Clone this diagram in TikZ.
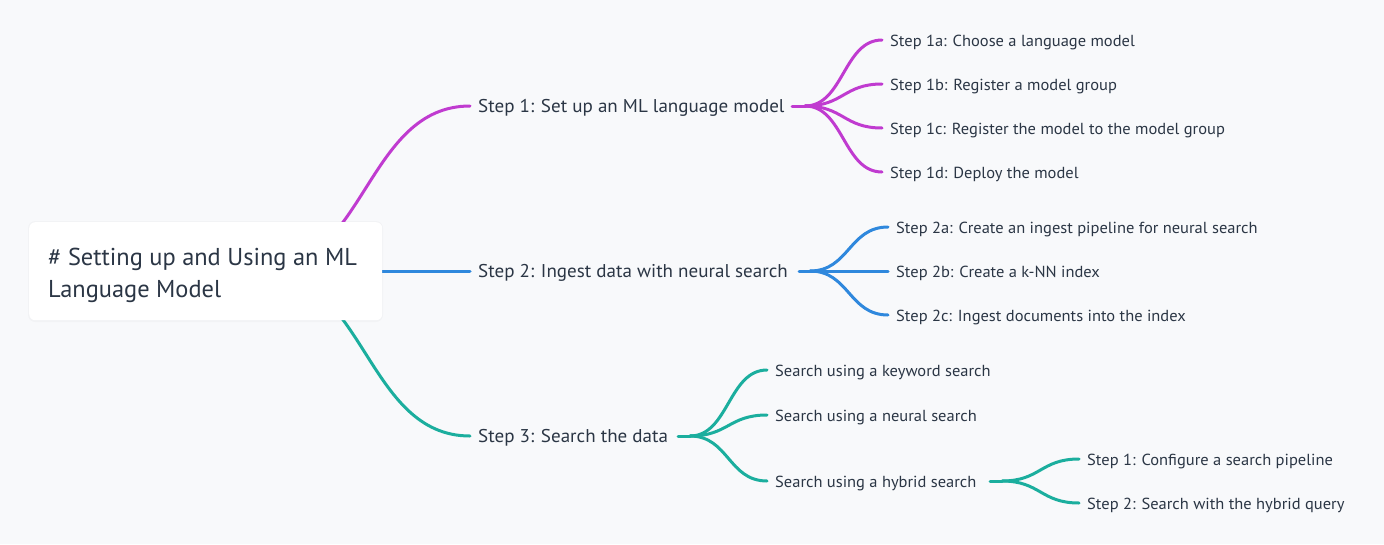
\documentclass[tikz,border=0pt]{standalone}
\usepackage{fontspec}
\setmainfont{PT Sans}
\newfontfamily\mmfont[FakeStretch=1.03]{PT Sans}
\newfontfamily\rootfont{PT Sans}
\definecolor{bg}{HTML}{F8F9FB}
\definecolor{txt}{HTML}{2B3645}
\definecolor{cpur}{HTML}{C03BD0}
\definecolor{cblu}{HTML}{2F88DD}
\definecolor{ctea}{HTML}{1BAE9E}
\begin{document}
\begin{tikzpicture}[x=1pt,y=-1pt,
  lvlone/.style={anchor=base west,inner sep=0pt,text=txt,font=\mmfont\fontsize{18.5}{20}\selectfont},
  lvltwo/.style={anchor=base west,inner sep=0pt,text=txt,font=\mmfont\fontsize{16}{18}\selectfont},
  roottext/.style={anchor=base west,inner sep=0pt,text=txt,font=\rootfont\fontsize{24.4}{32}\selectfont},
  link/.style={line width=3pt,line cap=round}]
\useasboundingbox (0,0) rectangle (1384,544);
\fill[bg] (0,0) rectangle (1384,544);
% coordinates of link ends
\coordinate (r0) at (261,271);
\coordinate (r1) at (382,271);
\coordinate (s1in) at (470,106);
\coordinate (s2in) at (470,271);
\coordinate (s3in) at (470,436);
% root links (behind box)
\draw[link,cpur] (r0) .. controls (365.5,271) and (365.5,106) .. (s1in);
\draw[link,ctea] (r0) .. controls (365.5,271) and (365.5,436) .. (s3in);
\draw[link,cblu] (r1) -- (s2in);
% root box
\fill[black,opacity=0.025,rounded corners=7pt] (28,221) rectangle (383,322);
\node[draw=none,fill=white,rounded corners=6pt,minimum width=353pt,minimum height=98pt,anchor=north west,inner sep=0pt] (root) at (29,222) {};
\node[roottext] (roota) at (48,265) {\# Setting up and Using an ML};
\node[roottext] (rootb) at (48,297) {Language Model};
% level 1
\node[lvlone] (s1) at (478,112.5) {Step 1: Set up an ML language model};
\node[lvlone] (s2) at (478,277.5) {Step 2: Ingest data with neural search};
\node[lvlone] (s3) at (478,442.5) {Step 3: Search the data};
% step 1 children
\coordinate (s1out) at (792,106);
\coordinate (s1f) at (805,106);
\draw[link,cpur] (s1out) -- (s1f);
\foreach \n/\yy/\t in {a/40/{Step 1a: Choose a language model},b/84/{Step 1b: Register a model group},c/128/{Step 1c: Register the model to the model group},d/172/{Step 1d: Deploy the model}}{
  \node[lvltwo] (s1\n) at (890,\yy+6.5) {\t};
  \coordinate (s1\n in) at (882,\yy);
  \draw[link,cpur] (s1f) .. controls (843.5,106) and (843.5,\yy) .. (s1\n in);
}
% step 2 children
\coordinate (s2out) at (799,271);
\coordinate (s2f) at (810,271);
\draw[link,cblu] (s2out) -- (s2f);
\foreach \n/\yy/\t in {a/227/{Step 2a: Create an ingest pipeline for neural search},b/271/{Step 2b: Create a k-NN index},c/315/{Step 2c: Ingest documents into the index}}{
  \node[lvltwo] (s2\n) at (896,\yy+6.5) {\t};
  \coordinate (s2\n in) at (888,\yy);
  \draw[link,cblu] (s2f) .. controls (849,271) and (849,\yy) .. (s2\n in);
}
% step 3 children
\coordinate (s3out) at (678,436);
\coordinate (s3f) at (690,436);
\draw[link,ctea] (s3out) -- (s3f);
\foreach \n/\yy/\t in {a/370/{Search using a keyword search},b/415/{Search using a neural search},c/481/{Search using a hybrid search}}{
  \node[lvltwo] (s3\n) at (775,\yy+6.5) {\t};
  \coordinate (s3\n in) at (767,\yy);
  \draw[link,ctea] (s3f) .. controls (728.5,436) and (728.5,\yy) .. (s3\n in);
}
% hybrid children
\coordinate (hout) at (990,481);
\coordinate (hf) at (1002,481);
\draw[link,ctea] (hout) -- (hf);
\foreach \n/\yy/\t in {a/459/{Step 1: Configure a search pipeline},b/503/{Step 2: Search with the hybrid query}}{
  \node[lvltwo] (h\n) at (1087,\yy+6.5) {\t};
  \coordinate (h\n in) at (1079,\yy);
  \draw[link,ctea] (hf) .. controls (1040.5,481) and (1040.5,\yy) .. (h\n in);
}
\end{tikzpicture}
\end{document}
